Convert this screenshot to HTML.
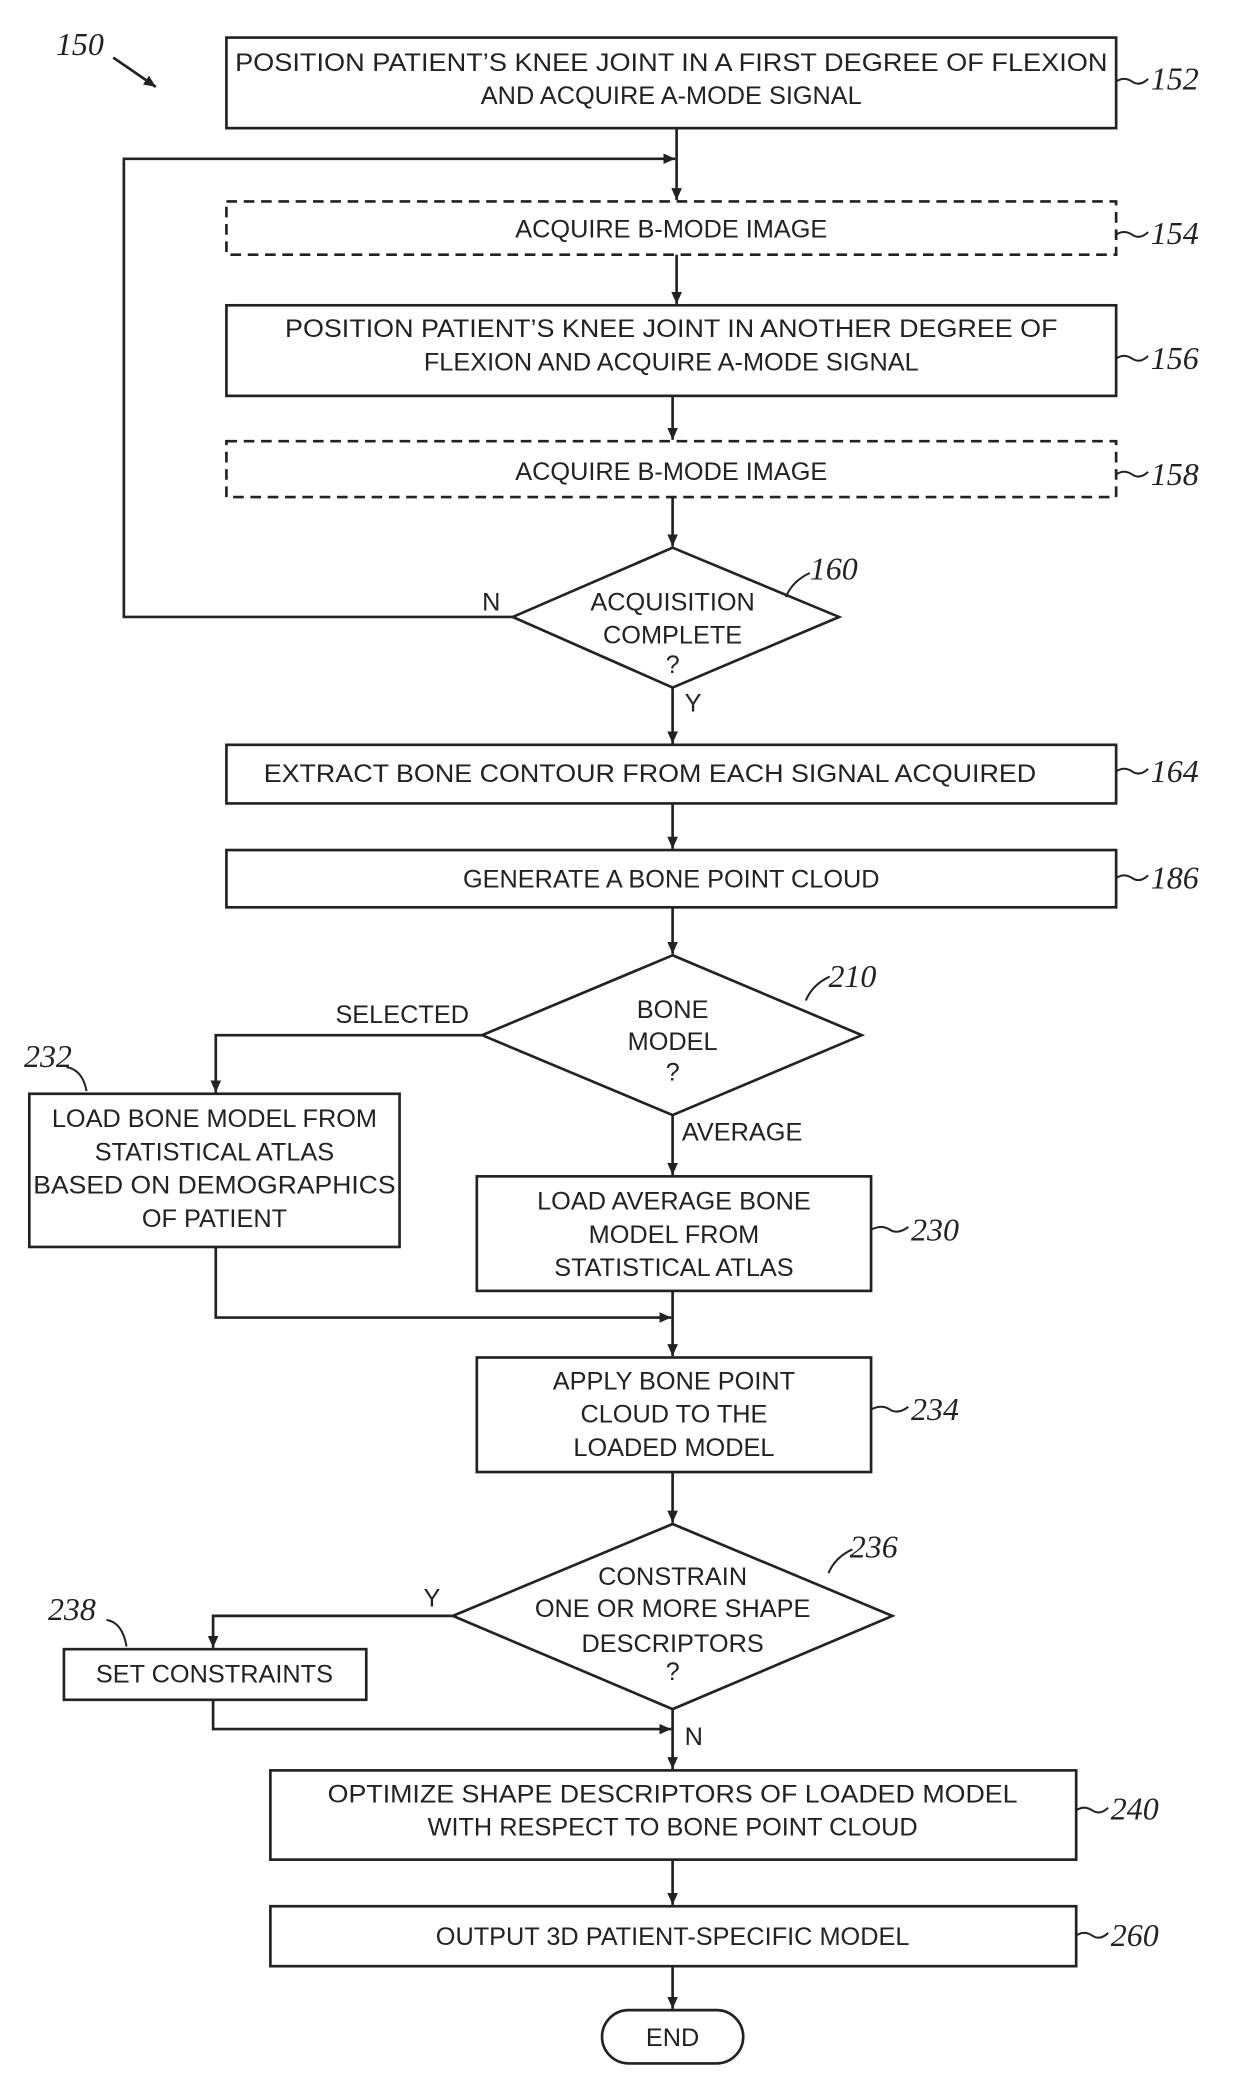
<!DOCTYPE html>
<html><head><style>html,body{margin:0;padding:0;background:#fff}svg{display:block}</style></head><body>
<svg width="1240" height="2085" viewBox="0 0 931 1563" xmlns="http://www.w3.org/2000/svg" font-family="Liberation Sans, sans-serif" font-size="19" fill="#222">
<defs><marker id="a" markerWidth="10" markerHeight="10" refX="9" refY="5" orient="auto" markerUnits="userSpaceOnUse"><path d="M0,1 L9,5 L0,9 z" fill="#222"/></marker></defs>
<g stroke="#222" stroke-width="2" fill="none">
<rect x="170" y="27" width="668" height="68"/>
<rect x="170" y="150" width="668" height="40" stroke-dasharray="8,5"/>
<rect x="170" y="228" width="668" height="68"/>
<rect x="170" y="330" width="668" height="42" stroke-dasharray="8,5"/>
<polygon points="505,410 630,462 505,515 385,462"/>
<rect x="170" y="558" width="668" height="44"/>
<rect x="170" y="637" width="668" height="43"/>
<polygon points="505,716 647,776 505,836 362,776"/>
<rect x="22" y="820" width="278" height="115"/>
<rect x="358" y="882" width="296" height="86"/>
<rect x="358" y="1018" width="296" height="86"/>
<polygon points="505,1143 670,1212 505,1282 340,1212"/>
<rect x="48" y="1237" width="227" height="38"/>
<rect x="203" y="1328" width="605" height="67"/>
<rect x="203" y="1430" width="605" height="45"/>
<rect x="452" y="1508" width="106" height="40" rx="20"/>
<g marker-end="url(#a)">
<line x1="508" y1="95" x2="508" y2="149"/>
<polyline points="385,462 93,462 93,118 507,118"/>
<line x1="508" y1="190" x2="508" y2="227"/>
<line x1="505" y1="296" x2="505" y2="329"/>
<line x1="505" y1="372" x2="505" y2="409"/>
<line x1="505" y1="515" x2="505" y2="557"/>
<line x1="505" y1="602" x2="505" y2="636"/>
<line x1="505" y1="680" x2="505" y2="715"/>
<polyline points="362,776 162,776 162,819"/>
<line x1="505" y1="836" x2="505" y2="881"/>
<polyline points="162,935 162,988 504,988"/>
<line x1="505" y1="968" x2="505" y2="1017"/>
<line x1="505" y1="1104" x2="505" y2="1142"/>
<polyline points="340,1212 160,1212 160,1236"/>
<polyline points="160,1275 160,1297 504,1297"/>
<line x1="505" y1="1282" x2="505" y2="1327"/>
<line x1="505" y1="1395" x2="505" y2="1429"/>
<line x1="505" y1="1475" x2="505" y2="1507"/>
<line x1="85" y1="42" x2="117" y2="64"/>
</g>
<g stroke-width="1.5">
<path d="M838,60 q6,-4 12,0 t12,-2"/><path d="M838,175 q6,-4 12,0 t12,-2"/><path d="M838,268 q6,-4 12,0 t12,-2"/><path d="M838,355 q6,-4 12,0 t12,-2"/>
<path d="M838,578 q6,-4 12,0 t12,-2"/><path d="M838,658 q6,-4 12,0 t12,-2"/><path d="M654,922 q8,-4 14,0 t14,-2"/><path d="M654,1057 q8,-4 14,0 t14,-2"/>
<path d="M808,1358 q6,-4 12,0 t12,-2"/><path d="M808,1452 q6,-4 12,0 t12,-2"/>
<path d="M590,447 q5,-12 18,-18"/><path d="M605,750 q5,-12 18,-18"/><path d="M622,1180 q5,-12 18,-18"/>
<path d="M50,800 q12,2 15,18"/><path d="M80,1215 q12,2 15,20"/>
</g>
</g>
<g text-anchor="middle">
<text x="504" y="52" textLength="655" lengthAdjust="spacingAndGlyphs">POSITION PATIENT’S KNEE JOINT IN A FIRST DEGREE OF FLEXION</text>
<text x="504" y="77">AND ACQUIRE A-MODE SIGNAL</text>
<text x="504" y="177">ACQUIRE B-MODE IMAGE</text>
<text x="504" y="252" textLength="580" lengthAdjust="spacingAndGlyphs">POSITION PATIENT’S KNEE JOINT IN ANOTHER DEGREE OF</text>
<text x="504" y="277">FLEXION AND ACQUIRE A-MODE SIGNAL</text>
<text x="504" y="359">ACQUIRE B-MODE IMAGE</text>
<text x="505" y="457">ACQUISITION</text><text x="505" y="482">COMPLETE</text><text x="505" y="504">?</text>
<text x="488" y="586" textLength="580" lengthAdjust="spacingAndGlyphs">EXTRACT BONE CONTOUR FROM EACH SIGNAL ACQUIRED</text>
<text x="504" y="665">GENERATE A BONE POINT CLOUD</text>
<text x="505" y="763">BONE</text><text x="505" y="787">MODEL</text><text x="505" y="810">?</text>
<text x="161" y="845">LOAD BONE MODEL FROM</text><text x="161" y="870">STATISTICAL ATLAS</text>
<text x="161" y="895" textLength="272" lengthAdjust="spacingAndGlyphs">BASED ON DEMOGRAPHICS</text><text x="161" y="920">OF PATIENT</text>
<text x="506" y="907">LOAD AVERAGE BONE</text><text x="506" y="932">MODEL FROM</text><text x="506" y="957">STATISTICAL ATLAS</text>
<text x="506" y="1042">APPLY BONE POINT</text><text x="506" y="1067">CLOUD TO THE</text><text x="506" y="1092">LOADED MODEL</text>
<text x="505" y="1189">CONSTRAIN</text><text x="505" y="1213">ONE OR MORE SHAPE</text><text x="505" y="1239">DESCRIPTORS</text><text x="505" y="1260">?</text>
<text x="161" y="1262">SET CONSTRAINTS</text>
<text x="505" y="1352" textLength="518" lengthAdjust="spacingAndGlyphs">OPTIMIZE SHAPE DESCRIPTORS OF LOADED MODEL</text>
<text x="505" y="1377">WITH RESPECT TO BONE POINT CLOUD</text>
<text x="505" y="1459">OUTPUT 3D PATIENT-SPECIFIC MODEL</text>
<text x="505" y="1535">END</text>
<text x="302" y="767">SELECTED</text>
</g>
<text x="362" y="457">N</text><text x="514" y="533">Y</text>
<text x="512" y="855">AVERAGE</text>
<text x="318" y="1205">Y</text><text x="514" y="1309">N</text>
<g font-family="Liberation Serif, serif" font-style="italic" font-size="24">
<text x="42" y="40">150</text><text x="864" y="66">152</text><text x="864" y="182">154</text><text x="864" y="276">156</text><text x="864" y="363">158</text>
<text x="608" y="434">160</text><text x="864" y="586">164</text><text x="864" y="666">186</text><text x="622" y="740">210</text>
<text x="18" y="800">232</text><text x="684" y="930">230</text><text x="684" y="1065">234</text><text x="638" y="1168">236</text>
<text x="36" y="1215">238</text><text x="834" y="1365">240</text><text x="834" y="1460">260</text>
</g>
</svg>
</body></html>
